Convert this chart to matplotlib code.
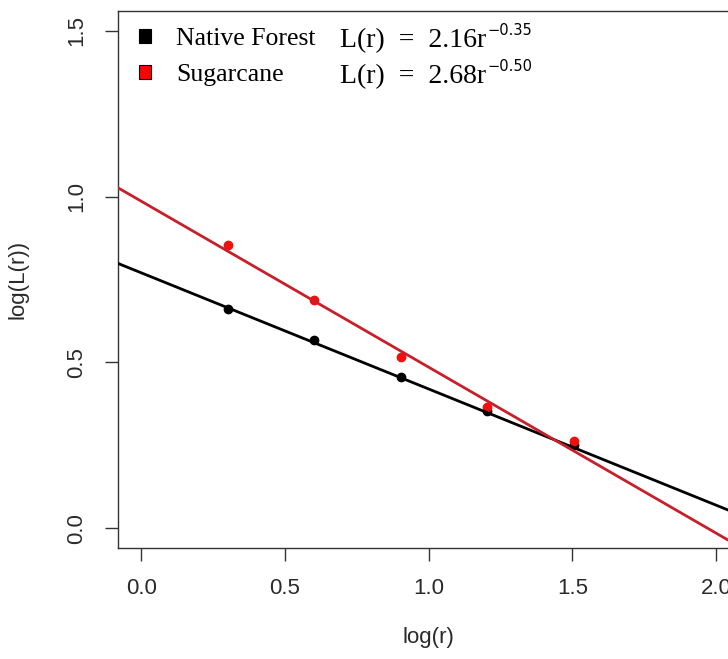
import numpy as np
import matplotlib
matplotlib.use("Agg")
import matplotlib.pyplot as plt
from matplotlib.patches import Patch

# log(r) positions of the sampled distances
log_r = [0.301, 0.602, 0.903, 1.204, 1.505]

# log(L(r))
forest_logL = [0.662, 0.567, 0.456, 0.353, 0.251]
sugar_logL = [0.853, 0.687, 0.517, 0.366, 0.264]

# power-law fits L(r) = a * r^(-b)
series_names = ["Native Forest", "Sugarcane"]
fit_a = [2.16, 2.68]
fit_b = [0.35, 0.50]

x_ticks = [0.0, 0.5, 1.0, 1.5, 2.0]
y_ticks = [0.0, 0.5, 1.0, 1.5]

plt.rcParams["font.family"] = ["Liberation Sans", "DejaVu Sans"]

W, H = 728, 659
fig = plt.figure(figsize=(W / 100, H / 100), dpi=100)

# axes box in pixels (the right edge runs past the crop like in the reference)
left, right, top, bottom = 118.3, 739.0, 10.7, 548.3
ax = fig.add_axes([left / W, 1 - bottom / H, (right - left) / W, (bottom - top) / H])

point_cols = ["black", "#f01010"]
line_cols = ["black", "#c8202a"]

for ys, pc in zip([forest_logL, sugar_logL], point_cols):
    ax.plot(log_r, ys, "o", color=pc, ms=6, zorder=2)

for a, b, lc in zip(fit_a, fit_b, line_cols):
    ax.axline((0, np.log(a)), slope=-b, color=lc, lw=2.0, zorder=3)

ax.set_xlim(-0.08, 2.08)
ax.set_ylim(-0.06, 1.56)
ax.set_xticks(x_ticks)
ax.set_yticks(y_ticks)
ax.set_xticklabels([f"{v:.1f}" for v in x_ticks])
ax.set_yticklabels([f"{v:.1f}" for v in y_ticks])

txt_col = "#2a2a2a"
ax.tick_params(axis="both", direction="out", length=9.6, width=1.0,
               color="#333333", labelsize=16, labelcolor=txt_col)
ax.tick_params(axis="x", pad=12)
ax.tick_params(axis="y", pad=13, labelrotation=90)
for lab in ax.get_yticklabels():
    lab.set_va("center")
for sp in ax.spines.values():
    sp.set_linewidth(1.0)
    sp.set_color("#333333")

ax.text(0.5, (bottom - 638) / (bottom - top), "log(r)", transform=ax.transAxes,
        ha="center", va="center", fontsize=16, color=txt_col)
ax.text((18 - left) / (right - left), 0.5, "log(L(r))", transform=ax.transAxes,
        ha="center", va="center", rotation=90, fontsize=16, color=txt_col)

# legend
handles = [Patch(facecolor=c, edgecolor="black", lw=0.8) for c in ["black", "red"]]
leg = ax.legend(handles, series_names, loc="upper left", frameon=False,
                bbox_to_anchor=((139 - left) / (right - left), (bottom - 28) / (bottom - top)),
                borderpad=0, borderaxespad=0, handlelength=0.45, handleheight=0.45,
                handletextpad=1.0, labelspacing=0.55,
                prop={"family": "Liberation Serif", "size": 18.5})

# fit equations: base text plus a raised exponent placed after it
renderer = fig.canvas.get_renderer()
for a, b, base_px in zip(fit_a, fit_b, [47.0, 83.0]):
    t = fig.text(340 / W, 1 - base_px / H, f"L(r)  =  {a:.2f}r",
                 ha="left", va="baseline", fontsize=20,
                 family="Liberation Serif", color="black")
    bb = t.get_window_extent(renderer)
    fig.text((bb.x1 + 1) / W, 1 - (base_px - 12) / H, f"\u2212{b:.2f}",
             ha="left", va="baseline", fontsize=10.5, family="DejaVu Sans",
             color="black")

fig.savefig("out.png", dpi=100)
